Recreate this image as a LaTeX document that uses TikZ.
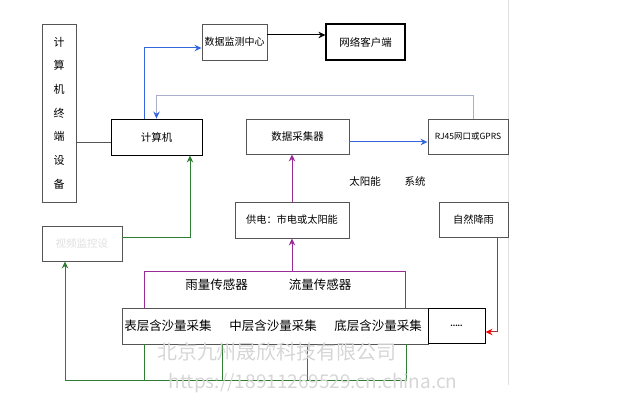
\documentclass[tikz,border=0pt]{standalone}
\usepackage{fontspec}
\setmainfont{Noto Sans CJK SC}
\usepackage{tikz}
\usetikzlibrary{calc,positioning,arrows.meta}
\definecolor{boxgray}{HTML}{555555}
\definecolor{linkblue}{HTML}{3366E0}
\definecolor{backgray}{HTML}{A8AFCC}
\definecolor{powpurple}{HTML}{9A2C9A}
\definecolor{vidgreen}{HTML}{2E7D32}
\definecolor{rainred}{HTML}{B03030}

\begin{document}
\begin{tikzpicture}[x=1pt, y=-1pt, >={Stealth[length=7pt,width=6.5pt]},
    font=\fontsize{10.5}{13}\selectfont, line width=1pt,
    box/.style={draw=boxgray, fill=white, inner sep=0pt, minimum height=36pt, line width=0.9pt},
    lbl/.style={inner sep=0pt, font=\fontsize{12.5}{14}\selectfont},
    wmark/.style={inner sep=0pt, text=black!16}]
  \useasboundingbox (0,0) rectangle (625,406);
  \draw[black!12] (508,0) -- (508,385);
  % boxes
  \node[box, minimum width=34pt, minimum height=178pt, align=center,
        font=\fontsize{11}{23.7}\selectfont] (term) at (59,113)
        {计\\算\\机\\终\\端\\设\\备};
  \node[box, draw=black, minimum width=91pt] (pc) at (156.5,137) {计算机};
  \node[box, minimum width=65pt, font=\fontsize{10}{12}\selectfont] (center) at (234.5,42) {数据监测中心};
  \node[box, draw=black, line width=1.15pt, minimum width=79pt] (client) at (365.5,42) {网络客户端};
  \node[box, minimum width=103pt, minimum height=35pt] (collector) at (297.5,136.5) {数据采集器};
  \node[box, minimum width=80pt, minimum height=35pt, font=\fontsize{8.5}{10}\selectfont]
        (rj45) at (468,136.5) {RJ45网口或GPRS};
  \node[box, minimum width=114pt, font=\fontsize{10.2}{12}\selectfont]
        (power) at (292,220) {供电：市电或太阳能};
  \node[inner sep=0pt] (solar) at (387.5,182) {太阳能\hspace{24pt}系统};
  \node[box, minimum width=69pt, minimum height=35pt, font=\fontsize{10.2}{12}\selectfont]
        (rain) at (473.5,219.5) {自然降雨};
  \node[box, minimum width=80pt, minimum height=35pt, text=black!12] (video) at (82,243.5) {视频监控设};
  \node[inner sep=0pt, minimum width=260pt, minimum height=36pt] (sens) at (275,290) {};
  \draw[powpurple] (sens.south west) -- (sens.north west) -- (sens.north east) -- (sens.south east);
  \node[box, minimum width=306pt] (layer) at (275,326) {};
  \node[box, draw=black, minimum width=57pt, minimum height=35pt, font=\scriptsize] (dots) at (456.5,325.5) {\textbf{.....}};
  \node[lbl] (rainsens) at (216.5,285) {雨量传感器};
  \node[lbl] (flowsens) at (320,285) {流量传感器};
  \node[lbl] (top) at (168,326) {表层含沙量采集};
  \node[lbl] (mid) at (273,326) {中层含沙量采集};
  \node[lbl] (bot) at (378,326) {底层含沙量采集};
  % connectors
  \coordinate (pcin) at ($(pc.west)+(0,6)$);
  \draw[boxgray] (pcin) -- (pcin -| term.east);
  \draw[linkblue, ->] ([xshift=-12.5pt]pc.north) |- ([yshift=-6pt]center.west);
  \draw[backgray, -{Stealth[length=7pt,width=6.5pt,color=linkblue]}]
        ([xshift=5pt]rj45.north) -- ++(0,-23) -| (pc.north);
  \draw[black, ->] ([yshift=7pt]center.east) -- ([yshift=7pt]client.west);
  \draw[linkblue, ->] ([yshift=-5.5pt]collector.east) -- ([yshift=-5.5pt]rj45.west);
  \draw[powpurple, ->] (power.north) -- (power.north |- collector.south);
  \draw[powpurple, ->] (sens.north -| power.south) -- (power.south);
  \draw[rainred, -{Stealth[length=7pt,width=6.5pt,color=red]}]
        ([xshift=23.5pt]rain.south) |- ([yshift=-6.5pt]dots.east);
  \draw[vidgreen, ->] ([yshift=5.5pt]video.east) -| ([xshift=33.5pt]pc.south);
  \draw[vidgreen, ->] ($(layer.south)+(131,0)$) -- ++(0,36) -| ([xshift=-17pt]video.south);
  \foreach \dx in {-131,-53,32}
    \draw[vidgreen] ($(layer.south)+(\dx,0)$) -- ++(0,36);
  % watermark
  \node[wmark, font=\fontsize{20}{22}\selectfont] (wmname) at (277,352) {北京九州晟欣科技有限公司};
  \node[wmark, font=\fontsize{19}{21}\selectfont] (wmurl) at (313,383) {https://18911269529.cn.china.cn};
\end{tikzpicture}
\end{document}
